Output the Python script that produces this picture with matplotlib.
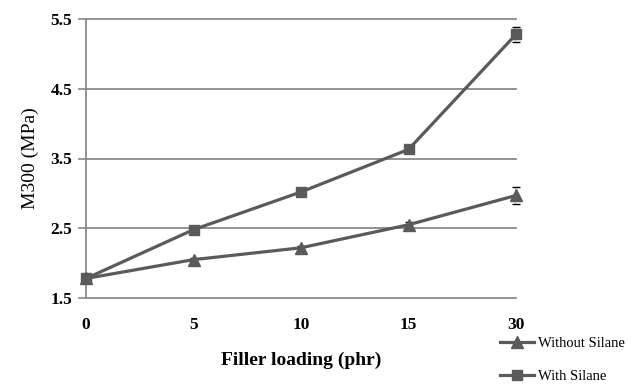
import matplotlib.pyplot as plt
import numpy as np
from matplotlib.lines import Line2D

# data
loading = ['0', '5', '10', '15', '30']
without_silane = [1.78, 2.05, 2.22, 2.55, 2.97]
without_err = [0.0, 0.03, 0.03, 0.04, 0.12]
with_silane = [1.78, 2.48, 3.02, 3.63, 5.28]
with_err = [0.0, 0.03, 0.03, 0.03, 0.11]
yticks = [1.5, 2.5, 3.5, 4.5, 5.5]

plt.rcParams['font.family'] = ['Liberation Serif', 'DejaVu Serif']

fig = plt.figure(figsize=(6.43, 3.88), dpi=100)
ax = fig.add_axes([86/643, 1 - 298/388, (516-86)/643, (298-19)/388])

x = np.arange(len(loading))
gray = '#5a5a5a'

ax.errorbar(x, without_silane, yerr=without_err, color=gray, lw=2.3, marker='^',
            ms=8, ecolor='black', elinewidth=1, capsize=3, zorder=3)
ax.errorbar(x, with_silane, yerr=with_err, color=gray, lw=2.3, marker='s',
            ms=7.5, ecolor='black', elinewidth=1, capsize=3, zorder=3)

ax.set_xlim(0, len(loading) - 1)
ax.set_ylim(1.5, 5.5)
ax.set_yticks(yticks)
ax.set_yticklabels([f'{v:.1f}' for v in yticks], fontweight='bold', fontsize=12.5)
ax.set_xticks(x)
ax.set_xticklabels(loading, fontweight='bold', fontsize=12.5)
ax.tick_params(axis='x', length=0, pad=14)
ax.tick_params(axis='y', length=6, color='#8a8a8a', width=1.2, pad=4)

for v in yticks:
    ax.axhline(v, color='#8a8a8a', lw=1.3, zorder=1)

for s in ['top', 'right', 'bottom']:
    ax.spines[s].set_visible(False)
ax.spines['left'].set_color('#8a8a8a')
ax.spines['left'].set_linewidth(1.3)

ax.set_ylabel('M300 (MPa)', fontsize=14, labelpad=8)
ax.set_xlabel('Filler loading (phr)', fontsize=14, fontweight='bold', labelpad=13)

for line in ax.get_lines():
    line.set_clip_on(False)

handles = [Line2D([], [], color=gray, lw=2.3, marker='^', ms=8),
           Line2D([], [], color=gray, lw=2.3, marker='s', ms=7.5)]
leg = fig.legend(handles, ['Without Silane', 'With Silane'], loc='lower left',
                 bbox_to_anchor=(487/643, -0.022), frameon=False,
                 fontsize=10.5, handlelength=2.3, handletextpad=0.3, labelspacing=1.4)

fig.savefig('out.png', dpi=100)
